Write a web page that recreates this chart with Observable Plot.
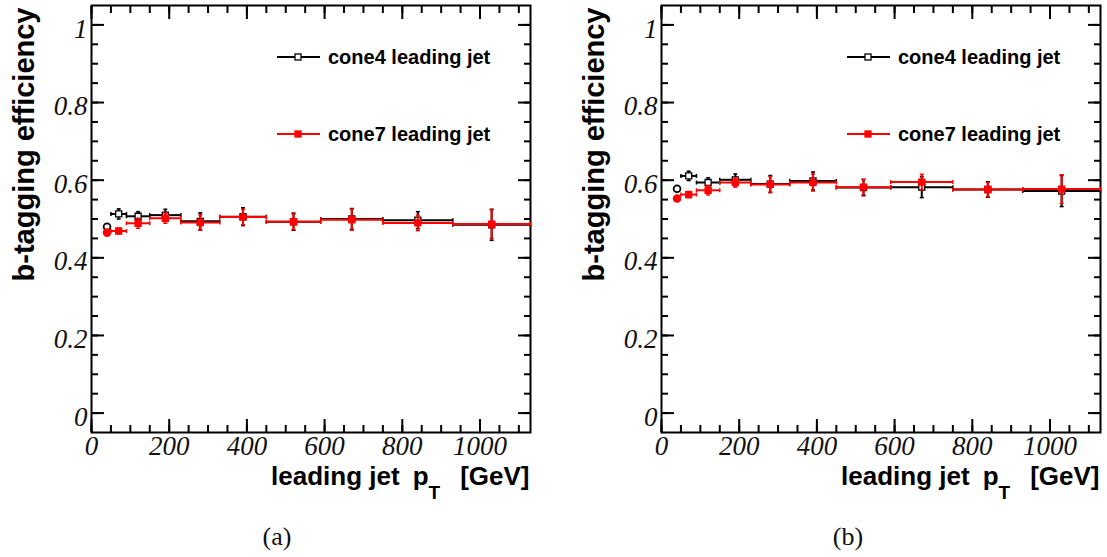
<!DOCTYPE html>
<html><head><meta charset="utf-8">
<script src="https://cdn.jsdelivr.net/npm/d3@7"></script>
<script src="https://cdn.jsdelivr.net/npm/@observablehq/plot@0.6"></script>
<style>
body{margin:0;background:#fff;}
#wrap{position:relative;width:1107px;height:557px;overflow:hidden;background:#fff;}
.panel{position:absolute;top:0;}
.cap{position:absolute;font-family:"Liberation Serif","DejaVu Serif",serif;font-size:26px;line-height:1;transform:translateX(-50%);color:#111;}
</style></head><body><div id="wrap"></div>
<script>
// ---- data ----
const binLo  = [35, 50, 90, 150, 230, 330, 450, 590, 750, 930];
const binHi  = [45, 90, 150, 230, 330, 450, 590, 750, 930, 1130];
const binMid = [40, 70, 120, 190, 280, 390, 520, 670, 840, 1030];

const effA_cone4 = [0.480, 0.513, 0.507, 0.510, 0.494, 0.506, 0.493, 0.500, 0.497, 0.485];
const errA_cone4 = [0.006, 0.013, 0.012, 0.015, 0.022, 0.023, 0.022, 0.027, 0.022, 0.040];
const effA_cone7 = [0.465, 0.469, 0.489, 0.502, 0.491, 0.505, 0.493, 0.498, 0.490, 0.487];
const errA_cone7 = [0.006, 0.007, 0.013, 0.013, 0.020, 0.020, 0.020, 0.027, 0.020, 0.037];

const effB_cone4 = [0.578, 0.611, 0.594, 0.601, 0.590, 0.598, 0.581, 0.582, 0.576, 0.572];
const errB_cone4 = [0.006, 0.012, 0.012, 0.015, 0.022, 0.023, 0.021, 0.027, 0.020, 0.040];
const effB_cone7 = [0.553, 0.563, 0.574, 0.594, 0.589, 0.594, 0.582, 0.595, 0.576, 0.577];
const errB_cone7 = [0.006, 0.008, 0.012, 0.012, 0.020, 0.022, 0.020, 0.020, 0.018, 0.037];

const seriesNames = ["cone4 leading jet", "cone7 leading jet"];
const xMajor = [0, 200, 400, 600, 800, 1000];
const xMinor = d3.range(0, 1101, 50);
const yMajor = [0, 0.2, 0.4, 0.6, 0.8, 1];
const yMinor = d3.range(0, 21).map(i => +(i * 0.05).toFixed(2));
const xTitle = "leading jet pT [GeV]";
const yTitle = "b-tagging efficiency";
const captions = ["(a)", "(b)"];

// ---- helpers ----
const vbar = {draw(ctx, size) { const r = Math.sqrt(size / Math.PI); ctx.moveTo(0, -r); ctx.lineTo(0, r); }};
const hbar = {draw(ctx, size) { const r = Math.sqrt(size / Math.PI); ctx.moveTo(-r, 0); ctx.lineTo(r, 0); }};

function rows(eff, err) {
  return eff.map((v, i) => ({lo: binLo[i], hi: binHi[i], mid: binMid[i], v, e: err[i], lo_e: v - err[i], hi_e: v + err[i], first: i === 0}));
}

function seriesMarks(data, color, open) {
  const fill = open ? "white" : color;
  return [
    Plot.ruleY(data, {y: "v", x1: "lo", x2: "hi", stroke: color, strokeWidth: 2}),
    Plot.dot(data, {x: "lo", y: "v", symbol: vbar, r: 2, stroke: color, strokeWidth: 1.5, fill: "none"}),
    Plot.dot(data, {x: "hi", y: "v", symbol: vbar, r: 2, stroke: color, strokeWidth: 1.5, fill: "none"}),
    Plot.ruleX(data, {x: "mid", y1: "lo_e", y2: "hi_e", stroke: color, strokeWidth: 2}),
    Plot.dot(data, {x: "mid", y: "lo_e", symbol: hbar, r: 2, stroke: color, strokeWidth: 1.5, fill: "none"}),
    Plot.dot(data, {x: "mid", y: "hi_e", symbol: hbar, r: 2, stroke: color, strokeWidth: 1.5, fill: "none"}),
    Plot.dot(data.filter(d => !d.first), {x: "mid", y: "v", symbol: "square", r: 3.4, stroke: color, strokeWidth: 1.3, fill}),
    Plot.dot(data.filter(d => d.first), {x: "mid", y: "v", symbol: "circle", r: 3.4, stroke: color, strokeWidth: 1.8, fill})
  ];
}

function makePanel(eff4, err4, eff7, err7, width, marginRight) {
  const d4 = rows(eff4, err4), d7 = rows(eff7, err7);
  const tickFont = {fontFamily: "Liberation Serif", fontStyle: "italic", fontSize: 27};
  const svg = Plot.plot({
    width, height: 500,
    marginLeft: 91, marginRight, marginTop: 5, marginBottom: 68,
    style: {background: "white", overflow: "visible", color: "black"},
    x: {domain: [0, 1130]},
    y: {domain: [-0.05, 1.05]},
    marks: [
      // inward ticks on all four sides
      Plot.axisX(xMinor, {anchor: "bottom", tickSize: -7, tickFormat: () => "", strokeWidth: 2, label: null}),
      Plot.axisX(xMajor, {anchor: "bottom", tickSize: -13, tickFormat: () => "", strokeWidth: 2, label: null}),
      Plot.axisX(xMinor, {anchor: "top", tickSize: -7, tickFormat: () => "", strokeWidth: 2, label: null}),
      Plot.axisX(xMajor, {anchor: "top", tickSize: -13, tickFormat: () => "", strokeWidth: 2, label: null}),
      Plot.axisY(yMinor, {anchor: "left", tickSize: -7, tickFormat: () => "", strokeWidth: 2, label: null}),
      Plot.axisY(yMajor, {anchor: "left", tickSize: -13, tickFormat: () => "", strokeWidth: 2, label: null}),
      Plot.axisY(yMinor, {anchor: "right", tickSize: -7, tickFormat: () => "", strokeWidth: 2, label: null}),
      Plot.axisY(yMajor, {anchor: "right", tickSize: -13, tickFormat: () => "", strokeWidth: 2, label: null}),
      // tick labels
      Plot.axisX(xMajor, {anchor: "bottom", tickSize: 0, tickPadding: 3, tickFormat: d => String(d), label: null, ...tickFont, fill: "#111"}),
      Plot.axisY(yMajor, {anchor: "left", tickSize: 0, tickPadding: 4, dy: 4, tickFormat: d => String(d), label: null, ...tickFont, fill: "#111"}),
      Plot.frame({stroke: "black", strokeWidth: 2}),
      ...seriesMarks(d4, "black", true),
      ...seriesMarks(d7, "#ff0000", false),
      // axis titles
      Plot.text([yTitle], {frameAnchor: "top-left", text: d => d, rotate: -90, textAnchor: "end", dx: -78, dy: 2,
        fontFamily: "Liberation Sans", fontWeight: "bold", fontSize: 29, fill: "black"}),
      Plot.text([xTitle], {frameAnchor: "bottom-right", text: d => d, textAnchor: "end", dy: 52, dx: -1,
        fontFamily: "Liberation Sans", fontWeight: "bold", fontSize: 26, fill: "black"})
    ]
  });
  // subscript T in the x title (ROOT-style spacing)
  d3.select(svg).selectAll("text").filter(function () { return this.textContent === xTitle; }).each(function () {
    const t = d3.select(this);
    t.text(null);
    t.append("tspan").text("leading jet");
    t.append("tspan").attr("dx", 13).text("p");
    t.append("tspan").attr("font-size", 19).attr("dy", 14).text("T");
    t.append("tspan").attr("dx", 20).attr("dy", -14).text("[GeV]");
  });
  // legend
  const g = d3.select(svg).append("g").attr("font-family", "Liberation Sans").attr("font-weight", "bold")
    .attr("font-size", 20).attr("text-anchor", "start");
  const legendRows = [{name: seriesNames[0], color: "black", fill: "white", y: 57}, {name: seriesNames[1], color: "#ff0000", fill: "#ff0000", y: 134}];
  legendRows.forEach(r => {
    g.append("line").attr("x1", 277).attr("x2", 320).attr("y1", r.y).attr("y2", r.y).attr("stroke", r.color).attr("stroke-width", 2);
    g.append("rect").attr("x", 295).attr("y", r.y - 3).attr("width", 6).attr("height", 6).attr("fill", r.fill).attr("stroke", r.color).attr("stroke-width", 1.3);
    g.append("text").attr("x", 328).attr("y", r.y).attr("dy", "0.35em").attr("fill", "black").text(r.name);
  });
  return svg;
}

const wrap = document.getElementById("wrap");
const pA = makePanel(effA_cone4, errA_cone4, effA_cone7, errA_cone7, 553, 23);
pA.classList.add("panel"); pA.style.left = "0px";
wrap.appendChild(pA);
const pB = makePanel(effB_cone4, errB_cone4, effB_cone7, errB_cone7, 538, 8);
pB.classList.add("panel"); pB.style.left = "570px";
wrap.appendChild(pB);

[[277, captions[0]], [848, captions[1]]].forEach(([x, t]) => {
  const d = document.createElement("div");
  d.className = "cap"; d.style.left = x + "px"; d.style.top = "524px"; d.textContent = t;
  wrap.appendChild(d);
});
</script></body></html>
